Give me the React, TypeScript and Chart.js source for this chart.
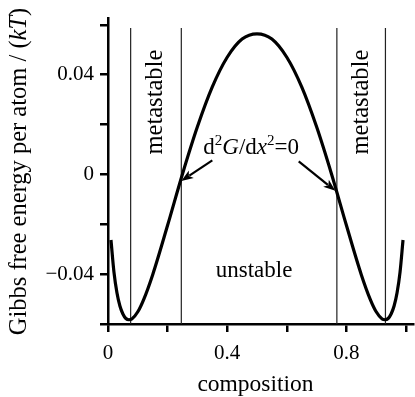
import React, { useEffect, useRef } from 'react';
import { Chart, registerables } from 'chart.js';

Chart.register(...registerables);

const compositionX = [0.01, 0.02, 0.03, 0.04, 0.05, 0.06, 0.07, 0.08, 0.10, 0.12, 0.15, 0.20, 0.25, 0.30, 0.35, 0.40, 0.45, 0.50, 0.55, 0.60, 0.65, 0.70, 0.75, 0.80, 0.85, 0.88, 0.90, 0.92, 0.93, 0.94, 0.95, 0.96, 0.97, 0.98, 0.99];
const gibbsEnergy = [-0.0263, -0.0392, -0.0475, -0.0528, -0.0560, -0.0578, -0.0583, -0.0580, -0.0551, -0.0501, -0.0402, -0.0204, 0.0002, 0.0191, 0.0351, 0.0470, 0.0543, 0.0564, 0.0543, 0.0470, 0.0351, 0.0191, 0.0002, -0.0204, -0.0402, -0.0501, -0.0551, -0.0580, -0.0583, -0.0578, -0.0560, -0.0528, -0.0475, -0.0392, -0.0263];

const boundaryX = [0.076, 0.246, 0.768, 0.931];
const boundaryTop = 0.0587;
const boundaryBottom = -0.06;

const xTickValues = [0, 0.2, 0.4, 0.6, 0.8, 1.0];
const xTickLabels = ['0', '', '0.4', '', '0.8', ''];
const yTickValues = [-0.06, -0.04, -0.02, 0, 0.02, 0.04, 0.06];
const yTickLabels = ['', '\u22120.04', '', '0', '', '0.04', ''];

const SERIF = '"Liberation Serif", "Times New Roman", serif';

function drawArrow(ctx: CanvasRenderingContext2D, x0: number, y0: number, x1: number, y1: number) {
  const ang = Math.atan2(y1 - y0, x1 - x0);
  const len = 12;
  const hw = 4.5;
  ctx.beginPath();
  ctx.moveTo(x0, y0);
  ctx.lineTo(x1 - Math.cos(ang) * len * 0.8, y1 - Math.sin(ang) * len * 0.8);
  ctx.lineWidth = 2.2;
  ctx.stroke();
  ctx.beginPath();
  ctx.moveTo(x1, y1);
  ctx.lineTo(x1 - Math.cos(ang) * len - Math.sin(ang) * hw, y1 - Math.sin(ang) * len + Math.cos(ang) * hw);
  ctx.lineTo(x1 - Math.cos(ang) * len * 0.75, y1 - Math.sin(ang) * len * 0.75);
  ctx.lineTo(x1 - Math.cos(ang) * len + Math.sin(ang) * hw, y1 - Math.sin(ang) * len - Math.cos(ang) * hw);
  ctx.closePath();
  ctx.fill();
}

function drawSegments(ctx: CanvasRenderingContext2D, segs: { t: string; f: string; dy?: number }[], x: number, y: number) {
  let cx = x;
  for (const s of segs) {
    ctx.font = s.f;
    ctx.fillText(s.t, cx, y - (s.dy || 0));
    cx += ctx.measureText(s.t).width;
  }
}

function segWidth(ctx: CanvasRenderingContext2D, segs: { t: string; f: string }[]) {
  let w = 0;
  for (const s of segs) {
    ctx.font = s.f;
    w += ctx.measureText(s.t).width;
  }
  return w;
}

const annotPlugin = {
  id: 'annot',
  afterDatasetsDraw(chart: any) {
    const { ctx, scales } = chart;
    const x = scales.x;
    const y = scales.y;
    ctx.save();
    ctx.fillStyle = '#000';
    ctx.strokeStyle = '#000';

    // metastable labels
    ctx.font = `24.5px ${SERIF}`;
    ctx.textAlign = 'center';
    ctx.textBaseline = 'middle';
    const mY = y.getPixelForValue(0.029);
    [(boundaryX[0] + boundaryX[1]) / 2, (boundaryX[2] + boundaryX[3]) / 2].forEach((v) => {
      ctx.save();
      ctx.translate(x.getPixelForValue(v), mY);
      ctx.rotate(-Math.PI / 2);
      ctx.fillText('metastable', 0, 0);
      ctx.restore();
    });

    // unstable
    ctx.font = `23px ${SERIF}`;
    ctx.textBaseline = 'alphabetic';
    ctx.fillText('unstable', x.getPixelForValue(0.49), y.getPixelForValue(-0.041));

    // d2G/dx2=0
    ctx.textAlign = 'left';
    const n = `23px ${SERIF}`;
    const it = `italic 23px ${SERIF}`;
    const sup = `15px ${SERIF}`;
    drawSegments(ctx, [
      { t: 'd', f: n },
      { t: '2', f: sup, dy: 9 },
      { t: 'G', f: it },
      { t: '/d', f: n },
      { t: 'x', f: it },
      { t: '2', f: sup, dy: 9 },
      { t: '=0', f: n },
    ], x.getPixelForValue(0.32), y.getPixelForValue(0.0083));

    // arrows
    drawArrow(ctx, x.getPixelForValue(0.35), y.getPixelForValue(0.0056), x.getPixelForValue(0.246), y.getPixelForValue(-0.0026));
    drawArrow(ctx, x.getPixelForValue(0.64), y.getPixelForValue(0.0052), x.getPixelForValue(0.763), y.getPixelForValue(-0.0066));

    // x title
    ctx.font = `23.5px ${SERIF}`;
    ctx.textAlign = 'center';
    ctx.fillText('composition', x.getPixelForValue(0.495), 391);

    // y title
    const yn = `24.5px ${SERIF}`;
    const yit = `italic 24.5px ${SERIF}`;
    const ysegs = [
      { t: 'Gibbs free energy per atom / (', f: yn },
      { t: 'kT', f: yit },
      { t: ')', f: yn },
    ];
    const w = segWidth(ctx, ysegs);
    ctx.save();
    ctx.translate(20, 171.5);
    ctx.rotate(-Math.PI / 2);
    ctx.textAlign = 'left';
    ctx.textBaseline = 'middle';
    drawSegments(ctx, ysegs, -w / 2, 0);
    ctx.restore();

    ctx.restore();
  },
};

export default function App() {
  const ref = useRef<HTMLCanvasElement | null>(null);
  useEffect(() => {
    document.body.style.margin = '0';
    const canvas = ref.current;
    if (!canvas) return;
    const boundarySets = boundaryX.map((bx) => ({
      data: [{ x: bx, y: boundaryBottom }, { x: bx, y: boundaryTop }],
      borderColor: '#222',
      borderWidth: 1.2,
      pointRadius: 0,
      tension: 0,
      clip: false as any,
    }));
    const chart = new Chart(canvas, {
      type: 'line',
      data: {
        datasets: [
          {
            data: compositionX.map((cx, i) => ({ x: cx, y: gibbsEnergy[i] })),
            borderColor: '#000',
            borderWidth: 3.2,
            pointRadius: 0,
            cubicInterpolationMode: 'monotone',
          },
          ...boundarySets,
        ],
      },
      options: {
        animation: false,
        responsive: false,
        devicePixelRatio: 1,
        layout: { padding: { top: 15, right: 0, bottom: 0, left: 0 } },
        plugins: { legend: { display: false }, tooltip: { enabled: false }, title: { display: false } },
        scales: {
          x: {
            type: 'linear',
            min: 0,
            max: 1.0233,
            afterBuildTicks: (s: any) => { s.ticks = xTickValues.map((v) => ({ value: v })); },
            afterFit: (s: any) => { s.height = 73; },
            ticks: {
              autoSkip: false,
              maxRotation: 0,
              padding: 9,
              color: '#000',
              font: { family: SERIF, size: 21 },
              callback: (_v: any, i: number) => xTickLabels[i],
            },
            grid: { drawOnChartArea: false, drawTicks: true, tickLength: 8, color: '#000', lineWidth: 2.5 },
            border: { display: true, color: '#000', width: 2.5 },
          },
          y: {
            type: 'linear',
            min: -0.06,
            max: 0.0625,
            afterBuildTicks: (s: any) => { s.ticks = yTickValues.map((v) => ({ value: v })); },
            afterFit: (s: any) => { s.width = 108; },
            ticks: {
              autoSkip: false,
              padding: 6,
              color: '#000',
              font: { family: SERIF, size: 21 },
              callback: (_v: any, i: number) => yTickLabels[i],
            },
            grid: { drawOnChartArea: false, drawTicks: true, tickLength: 8, color: '#000', lineWidth: 2.5 },
            border: { display: true, color: '#000', width: 2.5 },
          },
        },
      },
      plugins: [annotPlugin],
    });
    return () => chart.destroy();
  }, []);
  return (
    <div style={{ position: 'absolute', left: 0, top: 0, width: 415, height: 397, background: '#fff' }}>
      <canvas ref={ref} width={415} height={397} />
    </div>
  );
}
